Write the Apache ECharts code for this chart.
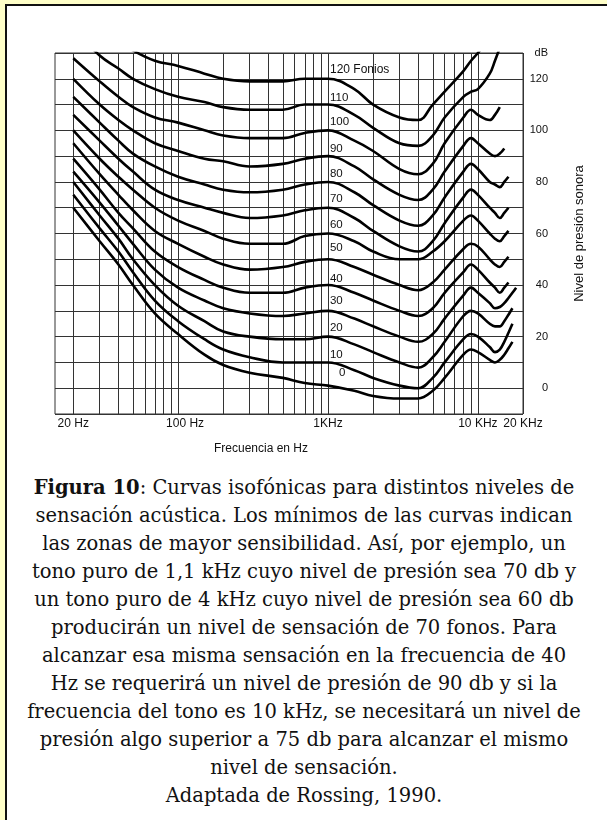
<!DOCTYPE html>
<html>
<head>
<meta charset="utf-8">
<script src="https://cdn.jsdelivr.net/npm/echarts@6/dist/echarts.min.js"></script>
<style>
  html, body { margin: 0; padding: 0; background: #ffffc8; }
  body { width: 607px; height: 820px; position: relative; overflow: hidden; }
  .sheet {
    position: absolute; left: 5px; top: 4px; width: 640px; height: 830px;
    background: #fff; border: 2px solid #111;
  }
  #chart { position: absolute; left: 0; top: 0; width: 607px; height: 470px; }
  .caption {
    position: absolute; left: 7px; top: 474px; width: 594px;
    text-align: center; font-family: "DejaVu Serif", serif; font-size: 19.5px;
    line-height: 28px; color: #111;
  }
</style>
</head>
<body>
<div class="sheet"></div>
<div id="chart"></div>
<div class="caption">
  <b>Figura 10</b>: Curvas isofónicas para distintos niveles de<br>
  sensación acústica. Los mínimos de las curvas indican<br>
  las zonas de mayor sensibilidad. Así, por ejemplo, un<br>
  tono puro de 1,1 kHz cuyo nivel de presión sea 70 db y<br>
  un tono puro de 4 kHz cuyo nivel de presión sea 60 db<br>
  producirán un nivel de sensación de 70 fonos. Para<br>
  alcanzar esa misma sensación en la frecuencia de 40<br>
  Hz se requerirá un nivel de presión de 90 db y si la<br>
  frecuencia del tono es 10 kHz, se necesitará un nivel de<br>
  presión algo superior a 75 db para alcanzar el mismo<br>
  nivel de sensación.<br>
  Adaptada de Rossing, 1990.
</div>
<script>
// frecuencias (Hz) comunes a todas las curvas
const freqs = [20, 30, 40, 50, 70, 100, 150, 200, 300, 500, 700, 1000, 1500, 2000, 3000, 4000, 5000, 6000, 8000, 9000, 10000, 12000, 13000, 14000, 15000, 16000, 17000, 18000];

// nivel de presión (dB) de cada curva isofónica, null = fuera de la curva
const fon0   = [70, 57, 48, 40, 29, 21, 13,  9,  6,  4,  2,  1, -1, -3, -4, -4, -1,  4, 13, 15, 14, 11, 10, 11, 13, 15.5, 18, null];
const fon10  = [75, 62, 53, 45, 34, 26, 19, 15, 12, 10, 10, 10,  7,  4,  1,  0,  4, 10, 19, 21, 20, 16, 14, 15, 18, 21.5, 25, null];
const fon20  = [80, 67, 58, 50, 40, 32, 26, 22, 20, 19, 19, 20, 17, 14, 10,  8, 12, 18, 28, 30, 29, 25, 24, 24, 26, 28.5, 31, null];
const fon30  = [84, 72, 63, 56, 46, 39, 34, 31, 29, 28, 29, 30, 27, 24, 20, 18, 21, 27, 36, 39, 37, 33, 31, 31.5, 33, 35, 37, 39];
const fon40  = [89, 77, 68, 62, 53, 47, 42, 39, 37, 37, 39, 40, 37, 34, 30, 28, 31, 37, 45, 48, 46, 41, 39, 37, 39, 41, null, null];
const fon50  = [95, 83, 75, 69, 61, 56, 51, 48, 46, 47, 49, 50, 47, 44, 40, 38, 41, 46, 54, 56, 55, 50, 48, 47, 49, 51, null, null];
const fon60  = [100, 89, 82, 77, 70, 65, 61, 58, 56, 56, 59, 60, 57, 53, 50, 50, 53, 57, 65, 67, 65, 60, 58, 57, 59, 61, null, null];
const fon70  = [106, 96, 89, 84, 77, 73, 70, 68, 66, 67, 69, 70, 66, 61, 55, 53, 57, 64, 74, 77, 75, 70, 68, 66, 68, 70, null, null];
const fon80  = [113, 103, 96, 91, 86, 82, 79, 77, 76, 77, 79, 80, 76, 71, 65, 63, 67, 74, 84, 87, 85, 80, 79, 78, 80, 82, null, null];
const fon90  = [120, 110, 104, 100, 95, 92, 89, 88, 86, 87, 89, 90, 86, 81, 75, 73, 77, 84, 94, 97, 95, 91, 90, 91, 93, null, null, null];
const fon100 = [128, 119, 113, 109, 105, 103, 100, 98, 97, 97, 99, 100, 96, 92, 85, 83, 87, 95, 105, 108, 106, 104, 106, 109, null, null, null, null];
const fon110 = [140, 129, 124, 120, 116, 113, 111, 109, 108, 108, 110, 110, 106, 101, 95, 94, 98, 105, 113, 115, 116, 122, 127, 132, null, null, null, null];
const fon120 = [140, 140, 135, 131, 127, 125, 122, 120, 119, 119, 120, 120, 116, 110, 105, 104, 110, 115, 123, 127, 130, 136, null, null, null, null, null, null];

const curves = [fon0, fon10, fon20, fon30, fon40, fon50, fon60, fon70, fon80, fon90, fon100, fon110, fon120];
const curveNames = ['0', '10', '20', '30', '40', '50', '60', '70', '80', '90', '100', '110', '120 Fonios'];
// altura (dB) del rótulo de cada curva, cerca de 1 kHz
const labelDb = [5.8, 12.8, 23.6, 33.7, 42.6, 54.3, 63.2, 73.3, 83.3, 93, 103.5, 112.8, 123.6];
const labelFreq = [1150, 1000, 1000, 1000, 1000, 1000, 1000, 1000, 1000, 1000, 1000, 1000, 1000];

// rejilla vertical y rótulos del eje de frecuencias
const gridFreqs = [20, 30, 40, 50, 60, 70, 80, 90, 100, 200, 300, 400, 500, 600, 700, 800, 900,
  1000, 2000, 3000, 4000, 5000, 6000, 7000, 8000, 9000, 10000, 20000];
const xLabelFreqs = [20, 100, 1000, 10000, 20000];
const xLabelTexts = ['20 Hz', '100 Hz', '1KHz', '10 KHz', '20 KHz'];

const lg = Math.log10;
const chart = echarts.init(document.getElementById('chart'));
const font = 'Liberation Sans, Arial, sans-serif';

chart.setOption({
  animation: false,
  grid: { left: 55, top: 53, width: 468, height: 361, show: true, borderColor: '#333', borderWidth: 1 },
  xAxis: {
    type: 'value',
    min: lg(15.1),
    max: lg(20000),
    name: 'Frecuencia en Hz',
    nameLocation: 'middle',
    nameGap: 29,
    nameTextStyle: { fontFamily: font, fontSize: 12, color: '#111', padding: [0, 56, 0, 0] },
    axisLine: { show: false },
    axisTick: { show: false, customValues: gridFreqs.map(lg) },
    splitLine: { show: true, lineStyle: { color: '#333', width: 1 } },
    axisLabel: {
      customValues: xLabelFreqs.map(lg),
      showMaxLabel: true,
      hideOverlap: false,
      margin: 4,
      fontFamily: font, fontSize: 12, color: '#111',
      formatter: v => {
        const i = xLabelFreqs.findIndex(f => Math.abs(lg(f) - v) < 1e-6);
        if (i < 0) return '';
        return i === 1 ? '{s|' + xLabelTexts[i] + '}' : xLabelTexts[i];
      },
      rich: { s: { fontFamily: font, fontSize: 12, color: '#111', padding: [0, 0, 0, 14] } }
    }
  },
  yAxis: {
    type: 'value',
    position: 'right',
    min: -10,
    max: 130,
    interval: 10,
    name: 'Nivel de presión sonora',
    nameLocation: 'middle',
    nameRotate: 90,
    nameGap: 50,
    nameTextStyle: { fontFamily: font, fontSize: 13, color: '#111' },
    axisLine: { show: false },
    axisTick: { show: false },
    splitLine: { show: true, lineStyle: { color: '#333', width: 1 } },
    axisLabel: {
      align: 'right',
      margin: 25,
      fontFamily: font, fontSize: 11, color: '#111',
      showMaxLabel: true, showMinLabel: true,
      formatter: v => v === 130 ? 'dB' : (v >= 0 && v % 20 === 0 ? String(v) : '')
    }
  },
  series: curves.map((db, k) => ({
    type: 'line',
    name: curveNames[k],
    data: freqs.map((f, i) => [lg(f), db[i]]),
    smooth: 0.4,
    symbol: 'none',
    connectNulls: false,
    clip: true,
    lineStyle: { color: '#000', width: 2.6 },
    markPoint: {
      symbol: 'circle',
      symbolSize: 0,
      label: {
        show: true, position: 'right', distance: 2,
        fontFamily: font, fontSize: k === 12 ? 12 : 11.5, color: '#111',
        formatter: curveNames[k]
      },
      data: [{ coord: [lg(labelFreq[k]), labelDb[k]] }]
    }
  }))
});
</script>
</body>
</html>
